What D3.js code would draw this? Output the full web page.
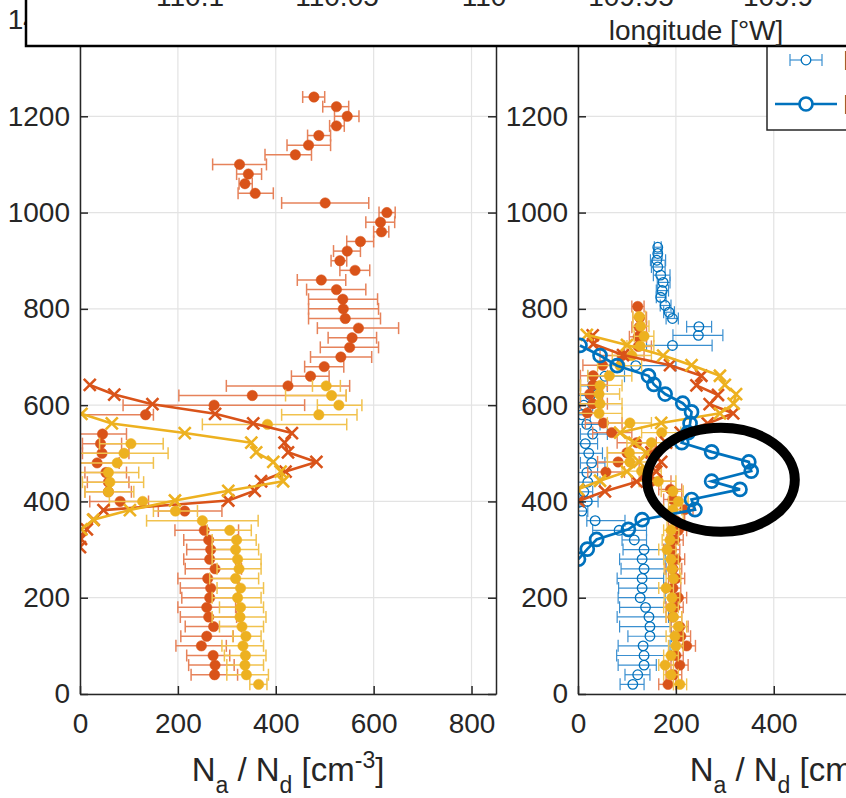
<!DOCTYPE html>
<html><head><meta charset="utf-8">
<script src="https://cdn.jsdelivr.net/npm/d3@7"></script>
<style>body{margin:0;background:#fff}svg{display:block;font-family:"Liberation Sans",Arial,Helvetica,sans-serif}</style>
</head><body><svg id="c" width="846" height="798"></svg>
<script>
// ---------------- DATA ----------------
const xTicks = [0, 200, 400, 600, 800];
const xTicksRightVisible = [0, 200, 400];
const yTicks = [0, 200, 400, 600, 800, 1000, 1200, 1400];
const lonTicks = ["110.1", "110.05", "110", "109.95", "109.9"];
const legendLabels = ["Na", "Nd"];

// Left panel: red dots (altitude, value, low, high)
const lRedH  = [1240,1220,1200,1180,1160,1140,1120,1100,1080,1060,1040,1020,1000,980,960,940,920,900,880,860,840,820,800,780,760,740,720,700,680,660,640,620,600,580,540,520,500,480,460,440,420,400,380,340,320,300,280,260,240,220,200,180,160,140,120,100,80,60,40];
const lRedV  = [478,524,546,524,488,467,440,326,344,337,358,501,627,614,616,573,546,531,562,493,524,537,538,542,569,556,551,533,499,471,425,352,274,134,46,42,45,35,53,58,58,82,214,254,263,267,265,276,261,267,265,259,263,273,259,248,272,276,275];
const lRedLo = [455,496,520,510,465,423,378,271,320,325,323,412,611,584,600,545,518,513,531,444,463,467,467,467,485,507,491,471,459,432,299,202,88,0,0,5,5,0,10,15,10,20,160,194,212,218,212,215,200,205,208,200,205,215,206,196,218,222,227];
const lRedHi = [500,549,570,540,512,512,473,381,371,352,395,590,644,643,631,600,573,545,592,543,584,608,610,614,651,606,610,596,539,509,551,544,459,150,95,85,100,80,95,100,105,140,290,324,322,320,318,330,322,325,322,318,320,330,313,299,306,315,322];

// Left panel: yellow dots
const lYelH  = [640,620,600,580,560,520,500,480,460,440,420,400,380,360,340,320,300,280,260,240,220,200,180,160,140,120,100,80,60,40,20];
const lYelV  = [503,514,529,488,383,104,90,76,58,61,58,128,195,250,306,320,318,322,325,318,328,322,328,327,331,339,333,338,337,340,365];
const lYelLo = [475,420,485,412,250,40,0,0,0,5,10,60,150,136,260,270,270,270,280,265,280,270,285,270,285,312,290,295,300,300,347];
const lYelHi = [532,544,576,566,545,170,180,150,120,130,110,200,240,364,350,360,365,370,370,365,375,370,375,380,375,370,375,380,375,385,382];

// Left panel: lines with x markers
const lRedLineH = [305,322,342,362,382,402,422,442,462,482,502,522,542,562,582,602,622,642];
const lRedLineV = [0,2,14,28,48,303,357,370,420,483,425,418,433,354,276,148,70,20];
const lYelLineH = [342,362,382,402,422,442,462,482,502,522,542,562,582];
const lYelLineV = [3,27,102,194,303,415,410,395,360,350,214,65,3];

// Right panel: blue open circles with error bars
const rBluH  = [20,40,60,80,100,120,140,160,180,200,220,240,260,280,300,320,340,360,380,400,420,440,460,480,500,520,540,560,580,600,620,640,660,682,724,745,763,780,793,807,824,838,855,870,887,901,915,928];
const rBluV  = [112,122,135,135,133,147,147,145,138,127,131,131,135,131,135,115,84,35,8,19,12,20,18,28,22,15,30,18,8,12,25,30,55,118,193,246,247,193,186,178,169,172,174,169,163,161,163,163];
const rBluLo = [86,96,82,79,82,102,85,80,85,82,83,80,88,85,92,90,30,18,0,4,0,0,0,5,0,0,5,0,0,0,0,5,20,86,140,194,222,180,175,168,160,160,162,154,150,148,155,156];
const rBluHi = [135,147,160,191,188,191,190,185,190,178,180,175,180,178,178,140,140,96,20,41,30,45,40,55,50,40,60,45,25,30,50,60,95,200,274,296,273,205,197,190,180,185,188,188,178,179,172,170];

// Right panel: blue line with circles
const rBluLineH = [280,301,321,342,362,383,404,425,442,463,482,503,522,543,562,586,604,623,643,661,682,703,724];
const rBluLineV = [1,19,38,103,131,239,232,331,273,354,349,273,212,225,229,232,214,178,155,144,80,45,4];

// Right panel: red dots
const rRedH  = [20,40,60,80,100,120,140,160,180,200,220,240,260,280,300,320,340,360,383,404,425,442,461,482,501,522,543,563,584,603,623,642,661,683,703,722,742,762,782,805];
const rRedV  = [184,195,208,200,222,210,208,194,198,205,194,200,194,200,191,198,205,200,218,194,189,150,57,82,100,120,69,52,19,30,24,31,31,50,90,123,123,125,126,122];
const rRedLo = [165,180,190,185,205,195,190,180,180,190,178,185,178,185,175,182,188,185,200,175,165,110,20,40,60,80,30,15,0,5,0,5,5,10,45,95,105,110,112,110];
const rRedHi = [200,212,225,215,240,230,225,212,215,222,210,218,212,218,208,215,222,218,235,212,212,190,95,125,140,160,110,90,45,60,50,60,60,90,135,150,140,140,140,135];

// Right panel: yellow dots
const rYelH  = [20,40,60,80,100,120,140,160,180,200,220,240,260,280,300,320,340,360,383,400,421,442,463,482,501,522,543,563,583,603,623,641,661,682,703,723,743,764,784];
const rYelV  = [208,190,178,190,200,198,205,195,190,192,180,195,192,190,182,188,190,198,194,205,194,164,130,106,105,150,171,106,43,45,43,45,64,86,110,127,135,128,125];
const rYelLo = [195,175,165,175,185,180,188,180,175,176,165,180,176,175,165,172,175,182,175,185,170,125,90,60,60,100,130,60,0,0,5,5,20,40,70,100,115,112,112];
const rYelHi = [222,205,195,205,215,215,222,212,205,208,195,210,208,205,200,205,206,215,212,225,215,200,170,150,150,200,210,150,90,90,85,90,110,130,150,155,155,145,138];

// Right panel: lines with x markers
const rRedLineH = [401,421,441,462,482,502,522,543,562,583,602,621,641,661,683,704,727,745];
const rRedLineV = [1,55,120,160,170,150,180,210,265,317,269,286,242,252,188,92,31,30];
const rYelLineH = [425,443,462,482,501,522,543,563,583,603,623,642,661,683,703,725,746];
const rYelLineV = [0,45,100,125,140,115,86,170,290,318,323,300,290,232,174,100,18];

// Annotation ellipse (data units of right panel)
const ellipseC = {v: 292, h: 445, rv: 151, rh: 108};

// ---------------- DRAW ----------------
const RED = "#D95319", YEL = "#EDB120", BLU = "#0072BD";
const RED_BAR = "#E6825A", YEL_BAR = "#F1C24E", BLU_BAR = "#3A8FD0";
const AX = "#262626", GRID = "#e3e3e3";
const svg = d3.select("#c");
const fmt = d3.format("d");

const y = d3.scaleLinear().domain([0, 1400]).range([694, 20]);
const xL = d3.scaleLinear().domain([0, 850]).range([80, 496]);
const xR = d3.scaleLinear().domain([0, 850]).range([578, 994]);

function zip(H, V, LO, HI) { return H.map((h, i) => ({h, v: V[i], lo: LO ? LO[i] : null, hi: HI ? HI[i] : null})); }

function panel(x, id, rightBox, labelTicks) {
  const g = svg.append("g");
  const x0 = x.range()[0], x1 = x.range()[1];
  svg.append("clipPath").attr("id", id).append("rect")
    .attr("x", x0).attr("y", 20).attr("width", x1 - x0).attr("height", 674);
  g.selectAll(".gx").data(xTicks).enter().append("line")
    .attr("x1", d => x(d)).attr("x2", d => x(d)).attr("y1", 20).attr("y2", 694)
    .attr("stroke", GRID).attr("stroke-width", 1.2);
  g.selectAll(".gy").data(yTicks).enter().append("line")
    .attr("x1", x0).attr("x2", x1).attr("y1", d => y(d)).attr("y2", d => y(d))
    .attr("stroke", GRID).attr("stroke-width", 1.2);
  const data = g.append("g").attr("clip-path", `url(#${id})`);
  const ax = g.append("g").attr("class", "axes");
  ax.append("g").attr("transform", `translate(${x0},0)`)
    .call(d3.axisLeft(y).tickValues(yTicks).tickFormat(fmt).tickSize(-8).tickSizeOuter(0).tickPadding(10));
  ax.append("g").attr("transform", `translate(0,694)`)
    .call(d3.axisBottom(x).tickValues(labelTicks).tickFormat(fmt).tickSize(-8).tickSizeOuter(0).tickPadding(19));
  if (rightBox) {
    ax.append("g").attr("transform", `translate(${x1},0)`)
      .call(d3.axisRight(y).tickValues(yTicks).tickSize(-8).tickSizeOuter(0).tickFormat(""));
  }
  ax.selectAll("path.domain").attr("stroke", AX).attr("stroke-width", 1.5);
  ax.selectAll(".tick line").attr("stroke", AX).attr("stroke-width", 1.5);
  ax.selectAll(".tick text").attr("fill", AX).style("font-size", "28px")
    .style("font-family", '"Liberation Sans", Arial, sans-serif');
  const t = g.append("text").attr("x", (x0 + 416 / 2)).attr("y", 781).attr("text-anchor", "middle")
    .attr("fill", AX).style("font-size", "33px");
  t.append("tspan").text("N");
  t.append("tspan").attr("dy", 12).style("font-size", "23px").text("a");
  t.append("tspan").attr("dy", -12).text(" / N");
  t.append("tspan").attr("dy", 12).style("font-size", "23px").text("d");
  t.append("tspan").attr("dy", -12).text(" [cm");
  t.append("tspan").attr("dy", -13).style("font-size", "23px").text("-3");
  t.append("tspan").attr("dy", 13).text("]");
  return data;
}

function errDots(g, x, rows, color, barColor, filled, r, bw) {
  const s = g.append("g");
  const cap = 6;
  rows.forEach(d => {
    const yy = y(d.h);
    s.append("line").attr("x1", x(d.lo)).attr("x2", x(d.hi)).attr("y1", yy).attr("y2", yy)
      .attr("stroke", barColor).attr("stroke-width", bw);
    [d.lo, d.hi].forEach(e => s.append("line").attr("x1", x(e)).attr("x2", x(e))
      .attr("y1", yy - cap).attr("y2", yy + cap).attr("stroke", barColor).attr("stroke-width", bw));
  });
  s.selectAll("circle").data(rows).enter().append("circle")
    .attr("cx", d => x(d.v)).attr("cy", d => y(d.h)).attr("r", r)
    .attr("fill", filled ? color : "none").attr("stroke", color).attr("stroke-width", filled ? 0.5 : 1.3);
}

function xLine(g, x, rows, color) {
  const line = d3.line().x(d => x(d.v)).y(d => y(d.h));
  g.append("path").datum(rows).attr("d", line).attr("fill", "none")
    .attr("stroke", color).attr("stroke-width", 2.6).attr("stroke-linejoin", "round");
  const k = 6;
  rows.forEach(d => {
    const cx = x(d.v), cy = y(d.h);
    g.append("path").attr("d", `M${cx - k},${cy - k}L${cx + k},${cy + k}M${cx - k},${cy + k}L${cx + k},${cy - k}`)
      .attr("stroke", color).attr("stroke-width", 2.6).attr("fill", "none");
  });
}

function circLine(g, x, rows, color) {
  const line = d3.line().x(d => x(d.v)).y(d => y(d.h));
  g.append("path").datum(rows).attr("d", line).attr("fill", "none")
    .attr("stroke", color).attr("stroke-width", 2.7);
  g.selectAll(".cl").data(rows).enter().append("circle")
    .attr("cx", d => x(d.v)).attr("cy", d => y(d.h)).attr("r", 6.5)
    .attr("fill", "none").attr("stroke", color).attr("stroke-width", 2.7);
}

// Left panel
const gl = panel(xL, "clipL", true, xTicks);
errDots(gl, xL, zip(lRedH, lRedV, lRedLo, lRedHi), RED, RED_BAR, true, 5.2, 1.5);
errDots(gl, xL, zip(lYelH, lYelV, lYelLo, lYelHi), YEL, YEL_BAR, true, 5.2, 1.5);
xLine(gl, xL, zip(lRedLineH, lRedLineV), RED);
xLine(gl, xL, zip(lYelLineH, lYelLineV), YEL);

// Right panel
const gr = panel(xR, "clipR", false, xTicksRightVisible);
errDots(gr, xR, zip(rBluH, rBluV, rBluLo, rBluHi), BLU, BLU_BAR, false, 4.8, 1.2);
errDots(gr, xR, zip(rRedH, rRedV, rRedLo, rRedHi), RED, RED_BAR, true, 5.2, 1.4);
errDots(gr, xR, zip(rYelH, rYelV, rYelLo, rYelHi), YEL, YEL_BAR, true, 5.2, 1.4);
xLine(gr, xR, zip(rRedLineH, rRedLineV), RED);
xLine(gr, xR, zip(rYelLineH, rYelLineV), YEL);
circLine(gr, xR, zip(rBluLineH, rBluLineV), BLU);

// annotation ellipse
svg.append("ellipse")
  .attr("cx", xR(ellipseC.v)).attr("cy", y(ellipseC.h))
  .attr("rx", xR(ellipseC.v + ellipseC.rv) - xR(ellipseC.v))
  .attr("ry", y(ellipseC.h) - y(ellipseC.h + ellipseC.rh))
  .attr("fill", "none").attr("stroke", "#000").attr("stroke-width", 10);

// Legend (partially outside the window)
const lg = svg.append("g");
lg.append("rect").attr("x", 767).attr("y", -20).attr("width", 200).attr("height", 150)
  .attr("fill", "#fff").attr("stroke", AX).attr("stroke-width", 1.5);
lg.append("line").attr("x1", 790).attr("x2", 822).attr("y1", 60).attr("y2", 60).attr("stroke", BLU_BAR).attr("stroke-width", 1.2);
[790, 822].forEach(cx => lg.append("line").attr("x1", cx).attr("x2", cx).attr("y1", 54).attr("y2", 66).attr("stroke", BLU_BAR).attr("stroke-width", 1.2));
lg.append("circle").attr("cx", 806).attr("cy", 60).attr("r", 4.8).attr("fill", "#fff").attr("stroke", BLU).attr("stroke-width", 1.3);
lg.append("line").attr("x1", 775).attr("x2", 837).attr("y1", 104).attr("y2", 104).attr("stroke", BLU).attr("stroke-width", 2.7);
lg.append("circle").attr("cx", 806).attr("cy", 104).attr("r", 6.5).attr("fill", "#fff").attr("stroke", BLU).attr("stroke-width", 2.7);
lg.selectAll(".lt").data(legendLabels).enter().append("text")
  .attr("x", 843).attr("y", (d, i) => i === 0 ? 70 : 114).attr("fill", AX).style("font-size", "28px").text(d => d);

// Overlaid box from the map panel above
const ov = svg.append("g");
ov.append("rect").attr("x", 26).attr("y", -10).attr("width", 860).attr("height", 56)
  .attr("fill", "#fff").attr("stroke", "#000").attr("stroke-width", 2.5);
ov.selectAll(".lon").data(lonTicks).enter().append("text")
  .attr("x", (d, i) => 190 + i * 147).attr("y", 6).attr("text-anchor", "middle")
  .attr("fill", AX).style("font-size", "28px").text(d => d);
ov.append("text").attr("x", 696).attr("y", 40).attr("text-anchor", "middle")
  .attr("fill", AX).style("font-size", "28px").text("longitude [°W]");
</script></body></html>
